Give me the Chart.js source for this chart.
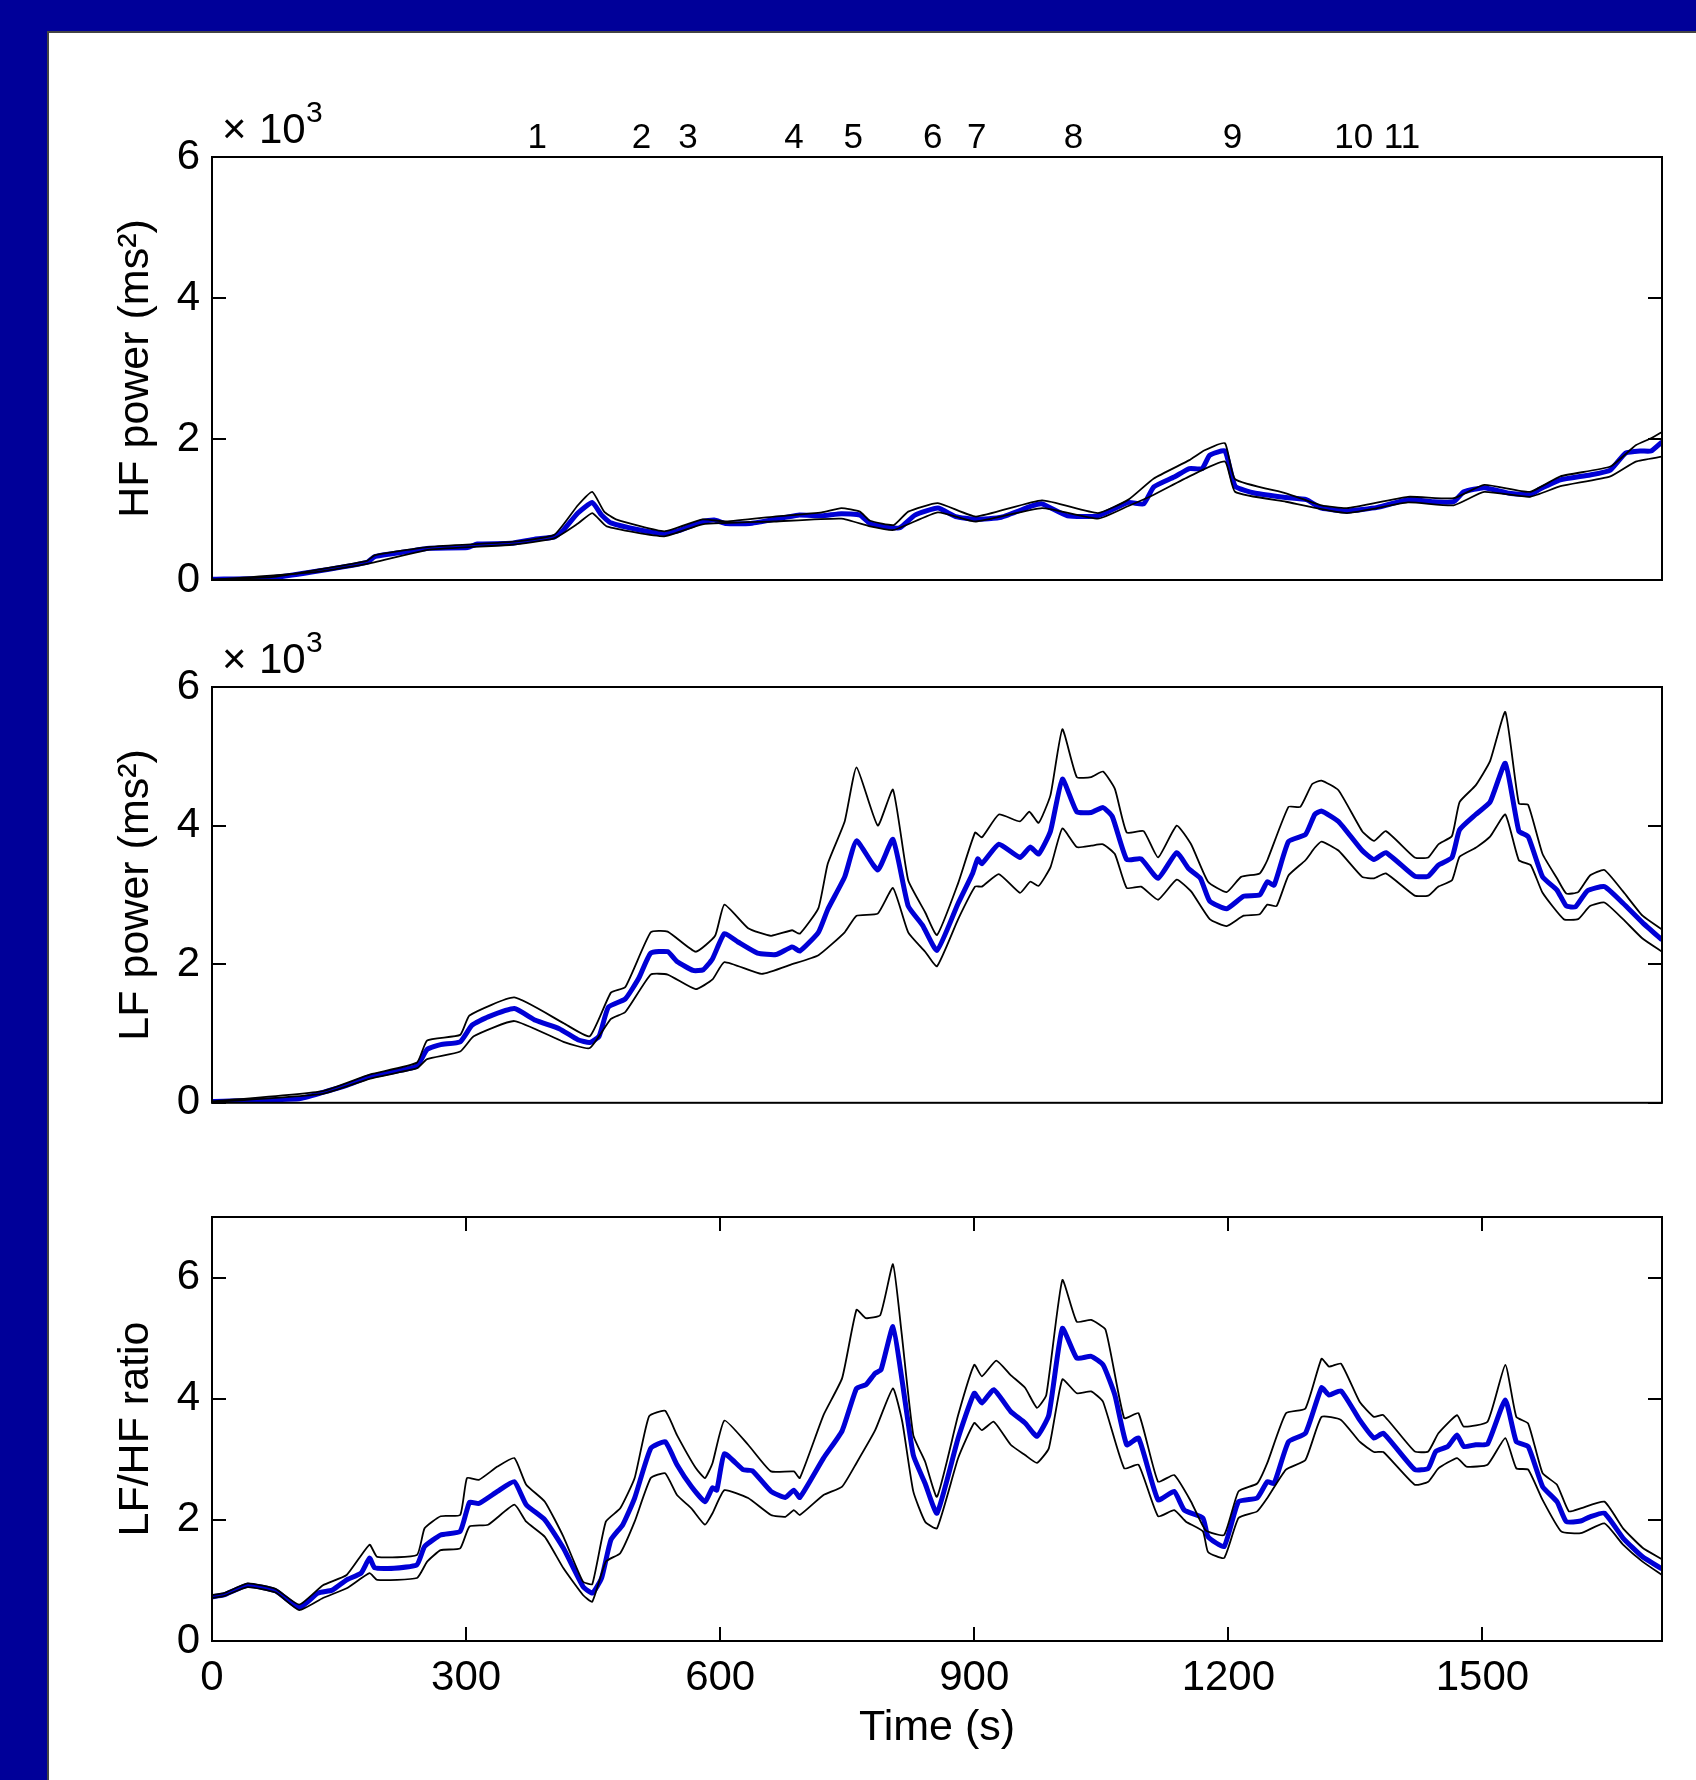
<!DOCTYPE html>
<html>
<head>
<meta charset="utf-8">
<script src="https://cdn.jsdelivr.net/npm/chart.js@4.4.1/dist/chart.umd.min.js"></script>
<style>
  html, body { margin: 0; padding: 0; }
  body { width: 1696px; height: 1780px; background: #000099; position: relative; overflow: hidden; }
  #panel { position: absolute; left: 47px; top: 31px; width: 1649px; height: 1749px; background: #fff;
           border-left: 2px solid #444; border-top: 2px solid #444; }
  canvas { position: absolute; left: 0; }
</style>
</head>
<body>
<div id="panel"></div>
<canvas id="hfChart" width="1696" height="560" style="top:60px"></canvas>
<canvas id="lfChart" width="1696" height="520" style="top:620px"></canvas>
<canvas id="ratioChart" width="1696" height="630" style="top:1150px"></canvas>
<script>
// time axis (s) and event markers
const X_MAX = 1712;
const timeTicks = [0, 300, 600, 900, 1200, 1500];
const eventTimes = [384, 507, 562, 687, 757, 851, 903, 1017, 1205, 1348, 1405];
const eventLabels = ['1', '2', '3', '4', '5', '6', '7', '8', '9', '10', '11'];

// HF power (x10^3 ms^2): [time, value]
const hfMean = [[0,0.01],[70,0.03],[127,0.13],[183,0.25],[192,0.33],[223,0.39],[257,0.45],[302,0.46],[313,0.51],[353,0.52],[381,0.58],[404,0.61],[415,0.71],[432,0.95],[449,1.10],[460,0.92],[471,0.81],[505,0.71],[534,0.66],[551,0.70],[579,0.83],[593,0.85],[607,0.80],[635,0.80],[664,0.86],[692,0.92],[720,0.91],[743,0.94],[765,0.92],[777,0.80],[799,0.75],[812,0.74],[830,0.92],[857,1.02],[878,0.90],[902,0.86],[932,0.89],[968,1.05],[980,1.08],[1010,0.91],[1046,0.91],[1082,1.10],[1100,1.08],[1112,1.32],[1136,1.46],[1154,1.58],[1169,1.58],[1178,1.77],[1196,1.83],[1208,1.33],[1232,1.23],[1268,1.17],[1292,1.14],[1310,1.02],[1340,0.98],[1376,1.03],[1412,1.14],[1442,1.11],[1466,1.11],[1478,1.25],[1502,1.31],[1532,1.23],[1556,1.21],[1568,1.29],[1592,1.42],[1627,1.49],[1651,1.56],[1669,1.80],[1687,1.83],[1699,1.83],[1712,1.96]];
const hfUpper = [[0,0.01],[70,0.04],[127,0.15],[183,0.27],[192,0.35],[257,0.47],[353,0.54],[404,0.64],[432,1.06],[449,1.25],[463,0.97],[477,0.86],[534,0.69],[579,0.86],[607,0.83],[664,0.90],[720,0.96],[743,1.02],[765,0.97],[777,0.84],[805,0.78],[822,0.97],[857,1.09],[902,0.90],[980,1.13],[1046,0.95],[1082,1.14],[1112,1.44],[1154,1.70],[1172,1.84],[1196,1.94],[1208,1.43],[1268,1.23],[1310,1.06],[1340,1.02],[1412,1.18],[1466,1.16],[1502,1.35],[1556,1.25],[1592,1.47],[1651,1.61],[1681,1.91],[1699,2.01],[1712,2.10]];
const hfLower = [[0,0.0],[127,0.12],[183,0.23],[257,0.43],[353,0.50],[404,0.59],[432,0.80],[449,0.95],[466,0.76],[534,0.62],[579,0.79],[664,0.83],[743,0.87],[777,0.76],[805,0.71],[857,0.96],[902,0.83],[980,1.02],[1046,0.87],[1082,1.05],[1112,1.21],[1154,1.47],[1196,1.68],[1208,1.25],[1268,1.11],[1340,0.95],[1412,1.10],[1466,1.06],[1502,1.25],[1556,1.18],[1592,1.33],[1651,1.47],[1681,1.68],[1712,1.75]];

// LF power (x10^3 ms^2)
const lfMean = [[0,0.02],[103,0.06],[131,0.15],[159,0.25],[187,0.38],[215,0.45],[242,0.53],[254,0.77],[270,0.84],[293,0.88],[307,1.12],[326,1.24],[357,1.36],[382,1.19],[410,1.07],[432,0.91],[446,0.87],[457,0.96],[468,1.38],[488,1.50],[504,1.80],[518,2.16],[538,2.18],[549,2.04],[568,1.91],[580,1.92],[591,2.08],[605,2.44],[621,2.32],[644,2.16],[666,2.14],[685,2.25],[694,2.19],[716,2.46],[727,2.79],[747,3.26],[761,3.78],[786,3.36],[804,3.80],[822,2.84],[839,2.56],[856,2.20],[881,2.88],[898,3.31],[904,3.52],[909,3.45],[929,3.73],[954,3.54],[966,3.69],[976,3.59],[990,3.92],[1004,4.67],[1021,4.20],[1038,4.19],[1052,4.26],[1063,4.13],[1080,3.51],[1097,3.52],[1117,3.24],[1139,3.61],[1153,3.38],[1167,3.24],[1178,2.91],[1198,2.80],[1218,2.98],[1237,3.00],[1246,3.19],[1254,3.14],[1271,3.77],[1291,3.87],[1302,4.16],[1310,4.21],[1330,4.06],[1358,3.64],[1372,3.51],[1386,3.61],[1420,3.27],[1436,3.27],[1448,3.43],[1464,3.54],[1473,3.94],[1492,4.16],[1509,4.34],[1527,4.90],[1543,3.92],[1554,3.84],[1571,3.26],[1588,3.07],[1599,2.84],[1610,2.83],[1624,3.06],[1644,3.12],[1666,2.88],[1689,2.60],[1712,2.35]];
const lfUpper = [[0,0.02],[131,0.17],[187,0.41],[242,0.58],[254,0.90],[293,0.98],[304,1.26],[357,1.52],[415,1.15],[446,0.96],[471,1.59],[488,1.67],[518,2.46],[538,2.47],[571,2.18],[594,2.41],[605,2.86],[633,2.52],[660,2.41],[685,2.49],[694,2.44],[716,2.81],[727,3.45],[747,4.06],[761,4.84],[786,4.00],[804,4.52],[822,3.21],[842,2.75],[856,2.42],[881,3.17],[901,3.90],[909,3.83],[929,4.16],[954,4.06],[965,4.20],[976,4.04],[990,4.44],[1004,5.39],[1021,4.70],[1038,4.70],[1052,4.78],[1066,4.53],[1080,3.90],[1100,3.92],[1117,3.54],[1139,4.00],[1156,3.73],[1176,3.19],[1198,3.04],[1215,3.26],[1237,3.31],[1246,3.50],[1271,4.27],[1285,4.27],[1299,4.60],[1310,4.65],[1330,4.51],[1358,3.92],[1372,3.78],[1386,3.92],[1420,3.54],[1436,3.54],[1448,3.73],[1464,3.85],[1473,4.34],[1492,4.58],[1509,4.93],[1527,5.64],[1543,4.32],[1554,4.30],[1571,3.59],[1588,3.24],[1599,3.02],[1613,3.04],[1627,3.28],[1644,3.36],[1666,3.05],[1689,2.70],[1712,2.50]];
const lfLower = [[0,0.01],[131,0.13],[187,0.35],[242,0.50],[254,0.63],[293,0.74],[309,0.96],[357,1.18],[415,0.88],[446,0.79],[471,1.21],[488,1.31],[518,1.85],[538,1.85],[571,1.64],[591,1.78],[605,2.03],[649,1.86],[685,2.00],[716,2.13],[747,2.46],[761,2.70],[786,2.73],[804,3.10],[822,2.46],[842,2.18],[856,1.97],[881,2.65],[901,3.12],[909,3.12],[929,3.30],[954,3.03],[966,3.19],[976,3.13],[990,3.40],[1004,3.96],[1021,3.69],[1038,3.71],[1052,3.73],[1066,3.59],[1080,3.10],[1097,3.12],[1117,2.93],[1139,3.22],[1156,3.05],[1178,2.65],[1198,2.55],[1218,2.70],[1237,2.72],[1246,2.86],[1257,2.84],[1271,3.28],[1291,3.50],[1302,3.68],[1310,3.77],[1330,3.64],[1358,3.26],[1372,3.24],[1386,3.31],[1420,2.99],[1436,2.99],[1448,3.12],[1464,3.21],[1473,3.55],[1492,3.68],[1509,3.84],[1527,4.16],[1543,3.50],[1557,3.43],[1571,3.03],[1596,2.65],[1613,2.65],[1627,2.84],[1644,2.89],[1666,2.65],[1689,2.37],[1712,2.18]];

// LF/HF ratio
const ratioMean = [[0,0.73],[14,0.76],[42,0.92],[75,0.83],[103,0.55],[125,0.79],[142,0.84],[159,1.01],[176,1.12],[186,1.37],[192,1.21],[215,1.20],[242,1.26],[251,1.56],[270,1.75],[293,1.81],[304,2.29],[315,2.27],[337,2.47],[357,2.63],[371,2.25],[393,2.00],[415,1.53],[438,0.90],[449,0.79],[460,1.04],[471,1.67],[485,1.92],[499,2.36],[518,3.18],[535,3.29],[549,2.91],[566,2.55],[582,2.30],[591,2.53],[596,2.49],[605,3.09],[627,2.83],[638,2.81],[660,2.47],[677,2.37],[687,2.49],[694,2.37],[722,3.02],[744,3.47],[761,4.17],[772,4.23],[783,4.42],[790,4.48],[804,5.19],[815,4.28],[828,3.07],[842,2.60],[856,2.11],[881,3.35],[900,4.09],[909,3.93],[923,4.15],[943,3.79],[960,3.60],[974,3.38],[988,3.73],[1004,5.16],[1021,4.67],[1038,4.70],[1052,4.56],[1066,4.06],[1080,3.24],[1094,3.35],[1117,2.33],[1136,2.47],[1148,2.16],[1170,2.03],[1176,1.72],[1195,1.56],[1212,2.30],[1234,2.36],[1246,2.63],[1254,2.60],[1271,3.29],[1291,3.43],[1310,4.18],[1319,4.06],[1333,4.13],[1355,3.65],[1372,3.35],[1383,3.43],[1420,2.83],[1436,2.85],[1445,3.13],[1459,3.21],[1470,3.40],[1478,3.21],[1492,3.24],[1506,3.25],[1527,3.98],[1540,3.29],[1554,3.21],[1571,2.55],[1588,2.30],[1599,1.97],[1616,1.98],[1627,2.05],[1644,2.11],[1666,1.70],[1689,1.39],[1712,1.19]];
const ratioUpper = [[0,0.76],[14,0.79],[42,0.95],[75,0.86],[103,0.60],[131,0.92],[159,1.09],[186,1.59],[195,1.39],[242,1.42],[251,1.86],[270,2.06],[293,2.08],[301,2.69],[315,2.66],[337,2.88],[357,3.02],[371,2.58],[393,2.30],[415,1.72],[438,0.98],[449,0.94],[465,1.97],[482,2.19],[499,2.69],[516,3.71],[535,3.80],[549,3.40],[571,2.86],[582,2.69],[591,2.94],[605,3.64],[633,3.24],[660,2.80],[687,2.80],[694,2.69],[722,3.73],[744,4.34],[761,5.47],[772,5.33],[789,5.38],[804,6.22],[814,5.11],[828,3.40],[842,2.96],[856,2.38],[881,3.73],[900,4.56],[909,4.37],[926,4.63],[943,4.39],[960,4.18],[974,3.85],[985,4.06],[1004,5.96],[1021,5.27],[1038,5.30],[1055,5.14],[1077,3.68],[1094,3.76],[1117,2.63],[1136,2.74],[1156,2.30],[1173,1.83],[1195,1.75],[1212,2.47],[1234,2.60],[1246,2.94],[1268,3.76],[1291,3.84],[1310,4.66],[1319,4.53],[1333,4.58],[1355,3.95],[1372,3.70],[1383,3.73],[1420,3.13],[1436,3.13],[1448,3.43],[1470,3.73],[1478,3.54],[1506,3.62],[1527,4.56],[1540,3.70],[1554,3.59],[1571,2.77],[1588,2.58],[1602,2.14],[1616,2.19],[1644,2.30],[1666,1.86],[1689,1.54],[1712,1.35]];
const ratioLower = [[0,0.71],[14,0.74],[42,0.89],[75,0.80],[103,0.51],[131,0.71],[159,0.87],[186,1.12],[195,1.01],[242,1.04],[254,1.31],[270,1.50],[293,1.53],[304,1.89],[326,1.92],[357,2.25],[371,1.97],[393,1.72],[415,1.20],[438,0.76],[449,0.65],[465,1.31],[482,1.45],[499,1.97],[518,2.69],[535,2.77],[549,2.41],[566,2.19],[582,1.92],[591,2.11],[605,2.49],[633,2.36],[660,2.08],[677,2.05],[687,2.16],[694,2.08],[722,2.41],[744,2.55],[761,2.94],[783,3.48],[804,4.17],[815,3.62],[828,2.47],[842,1.97],[856,1.86],[881,3.02],[900,3.60],[909,3.48],[923,3.62],[943,3.24],[960,3.07],[974,2.94],[988,3.18],[1004,4.32],[1021,4.09],[1038,4.12],[1052,3.95],[1077,2.85],[1094,2.91],[1117,2.06],[1136,2.16],[1150,1.97],[1170,1.81],[1176,1.47],[1195,1.37],[1212,2.03],[1234,2.14],[1246,2.36],[1268,2.83],[1291,2.99],[1310,3.70],[1333,3.65],[1355,3.29],[1372,3.12],[1383,3.12],[1420,2.58],[1436,2.63],[1448,2.85],[1470,3.02],[1481,2.88],[1506,2.91],[1527,3.35],[1540,2.85],[1554,2.83],[1571,2.33],[1593,1.81],[1616,1.78],[1644,1.94],[1666,1.59],[1689,1.31],[1712,1.09]];

const FONT = '"Liberation Sans", Arial, Helvetica, sans-serif';
const TICK = 14;

// draws the matlab style box, inside ticks and the extra texts
const framePlugin = {
  id: 'frame',
  afterDatasetsDraw(chart, args, opts) {
    const { ctx, chartArea: a, scales } = chart;
    ctx.save();
    ctx.strokeStyle = '#000';
    ctx.lineWidth = 2;
    ctx.strokeRect(a.left, a.top, a.width, a.height);
    ctx.beginPath();
    scales.y.ticks.forEach(t => {
      const y = Math.round(scales.y.getPixelForValue(t.value));
      ctx.moveTo(a.left, y); ctx.lineTo(a.left + TICK, y);
      ctx.moveTo(a.right, y); ctx.lineTo(a.right - TICK, y);
    });
    if (opts.xTicks) {
      scales.x.ticks.forEach(t => {
        const x = Math.round(scales.x.getPixelForValue(t.value));
        ctx.moveTo(x, a.bottom); ctx.lineTo(x, a.bottom - TICK);
        ctx.moveTo(x, a.top); ctx.lineTo(x, a.top + TICK);
      });
    }
    ctx.stroke();
    ctx.fillStyle = '#000';
    ctx.textBaseline = 'alphabetic';
    if (opts.exponent) {
      ctx.textAlign = 'left';
      ctx.font = '42px ' + FONT;
      ctx.fillText('\u00d7', a.left + 10, a.top - 14);
      ctx.fillText('10', a.left + 47, a.top - 14);
      ctx.font = '30px ' + FONT;
      ctx.fillText('3', a.left + 94, a.top - 35);
    }
    if (opts.events) {
      ctx.textAlign = 'center';
      ctx.font = '35px ' + FONT;
      eventTimes.forEach((t, i) => {
        ctx.fillText(eventLabels[i], scales.x.getPixelForValue(t), a.top - 9);
      });
    }
    ctx.restore();
  }
};

function line(pairs, color, width) {
  return {
    data: pairs.map(p => ({ x: p[0], y: p[1] })),
    borderColor: color,
    borderWidth: width,
    pointRadius: 0,
    tension: 0.15,
    fill: false
  };
}

function makeChart(id, series, opt) {
  const xAxis = {
    type: 'linear', min: 0, max: X_MAX,
    display: opt.showX,
    afterBuildTicks: s => { s.ticks = timeTicks.map(v => ({ value: v })); },
    ticks: { padding: 12, maxRotation: 0, autoSkip: false, color: '#000', font: { size: 42, family: FONT },
             callback: v => String(v) },
    grid: { display: false, drawTicks: false },
    border: { display: false },
    title: { display: true, text: 'Time (s)', color: '#000', font: { size: 43, family: FONT }, padding: { top: 0, bottom: 26 } }
  };
  if (opt.showX) xAxis.afterFit = s => { s.height = 139; };
  return new Chart(document.getElementById(id), {
    type: 'line',
    data: {
      datasets: [
        line(series[1], '#000', 1.8),
        line(series[2], '#000', 1.8),
        line(series[0], '#0000D6', 5)
      ]
    },
    options: {
      responsive: false,
      animation: false,
      devicePixelRatio: 1,
      layout: { padding: opt.padding },
      plugins: { legend: { display: false }, tooltip: { enabled: false }, frame: opt.frame },
      scales: {
        x: xAxis,
        y: {
          min: 0, max: opt.yMax,
          afterBuildTicks: s => { s.ticks = [0, 2, 4, 6].map(v => ({ value: v })); },
          ticks: { padding: 12, color: '#000', font: { size: 42, family: FONT } },
          grid: { display: false, drawTicks: false },
          border: { display: false },
          title: { display: true, text: opt.yTitle, color: '#000', font: { size: 43, family: FONT }, padding: { top: 10, bottom: 0 } },
          afterFit: s => { s.width = 112; }
        }
      }
    },
    plugins: [framePlugin]
  });
}

makeChart('hfChart', [hfMean, hfUpper, hfLower], {
  yMax: 6, yTitle: 'HF power (ms\u00b2)', showX: false,
  padding: { left: 100, right: 34, top: 97, bottom: 40 },
  frame: { exponent: true, events: true }
});
makeChart('lfChart', [lfMean, lfUpper, lfLower], {
  yMax: 6, yTitle: 'LF power (ms\u00b2)', showX: false,
  padding: { left: 100, right: 34, top: 67, bottom: 30 },
  frame: { exponent: true }
});
makeChart('ratioChart', [ratioMean, ratioUpper, ratioLower], {
  yMax: 7, yTitle: 'LF/HF ratio', showX: true,
  padding: { left: 100, right: 34, top: 67, bottom: 0 },
  frame: { xTicks: true }
});
</script>
</body>
</html>
